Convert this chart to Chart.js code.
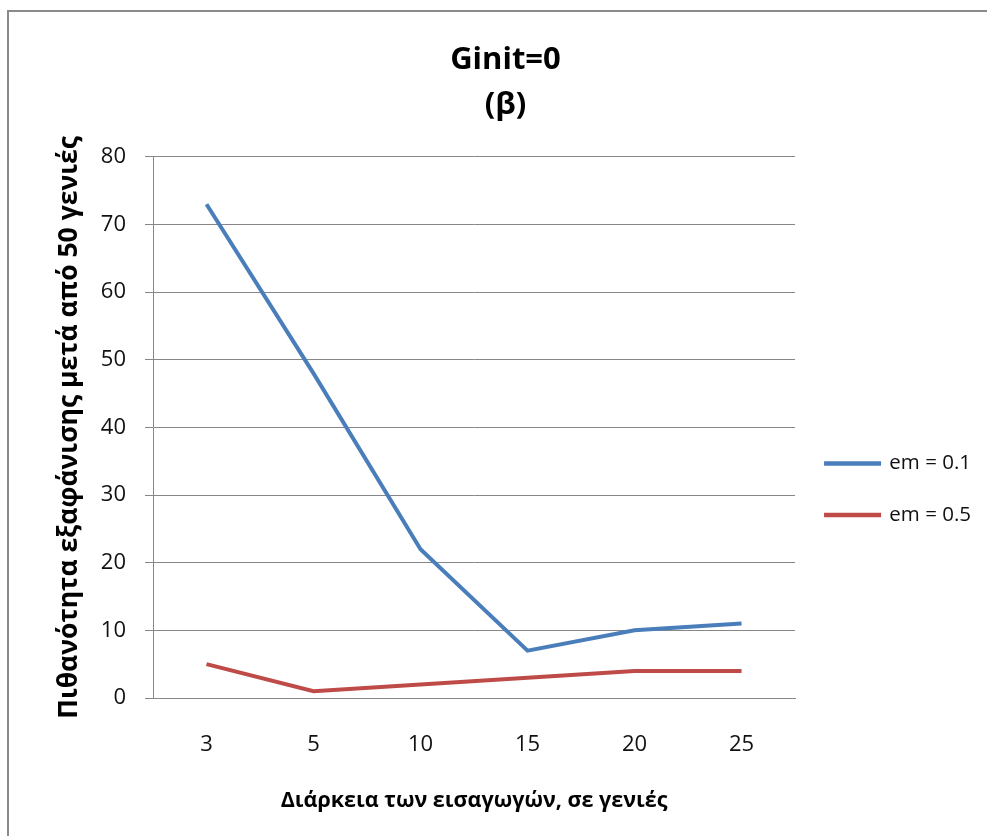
<!DOCTYPE html>
<html>
<head>
<meta charset="utf-8">
<script src="https://cdn.jsdelivr.net/npm/chart.js@4.4.1/dist/chart.umd.min.js"></script>
<style>
  html, body { margin: 0; padding: 0; background: #fff; overflow: hidden; }
  #frame { position: absolute; left: 7px; top: 10px; width: 1100px; height: 900px; border: 2px solid #8a8a8a; }
  #wrap { position: absolute; left: 0; top: 0; width: 987px; height: 836px; }
</style>
</head>
<body>
<div id="frame"></div>
<div id="wrap"><canvas id="chart" width="987" height="836"></canvas></div>
<script>
// categories: duration of introductions, in generations
const durations = ['3', '5', '10', '15', '20', '25'];

// extinction probability after 50 generations
const em01 = [73, 48, 22, 7, 10, 11];
const em05 = [5, 1, 2, 3, 4, 4];

const seriesNames = ['em = 0.1', 'em = 0.5'];
const yTicks = { min: 0, max: 80, step: 10 };

const FONT = "'Open Sans', 'Noto Sans', sans-serif";
const gridGray = '#878787';

const ctx = document.getElementById('chart').getContext('2d');
const chart = new Chart(ctx, {
    type: 'line',
    data: {
        labels: durations,
        datasets: [
            {
                label: seriesNames[0],
                data: em01,
                borderColor: '#4a7ebb',
                backgroundColor: '#4a7ebb',
                borderWidth: 4,
                pointRadius: 0,
                tension: 0,
                fill: false
            },
            {
                label: seriesNames[1],
                data: em05,
                borderColor: '#be4b48',
                backgroundColor: '#be4b48',
                borderWidth: 4,
                pointRadius: 0,
                tension: 0,
                fill: false
            }
        ]
    },
    options: {
        responsive: false,
        animation: false,
        layout: { padding: { left: 30, right: 6, top: 0, bottom: 0 } },
        plugins: {
            title: {
                display: true,
                text: ['Ginit=0', '(β)'],
                color: '#000',
                font: { family: FONT, size: 31, weight: 'bold', lineHeight: 1.45 },
                padding: { top: 38, bottom: 29 }
            },
            legend: {
                position: 'right',
                title: { display: true, text: ' ', font: { size: 12 }, padding: { top: 0, bottom: 128 } },
                labels: {
                    boxWidth: 53,
                    boxHeight: 0.5,
                    padding: 31,
                    color: '#111',
                    font: { family: FONT, size: 20.5 }
                }
            },
            tooltip: { enabled: false }
        },
        scales: {
            x: {
                offset: true,
                afterFit: function(scale) { scale.height = 138; },
                grid: { display: false, drawTicks: false },
                border: { display: true, color: gridGray, width: 1 },
                ticks: { color: '#111', padding: 34, font: { family: FONT, size: 22 } },
                title: {
                    display: true,
                    text: 'Διάρκεια των εισαγωγών, σε γενιές',
                    color: '#000',
                    font: { family: FONT, size: 21.5, weight: 'bold' },
                    padding: { top: 28, bottom: 22 }
                }
            },
            y: {
                min: yTicks.min,
                max: yTicks.max,
                afterFit: function(scale) { scale.width = 123; },
                grid: { color: gridGray, lineWidth: 1, drawTicks: true, tickLength: 8 },
                border: { display: true, color: gridGray, width: 1 },
                ticks: { stepSize: yTicks.step, color: '#111', padding: 19, font: { family: FONT, size: 22 } },
                title: {
                    display: true,
                    text: 'Πιθανότητα εξαφάνισης μετά από 50 γενιές',
                    color: '#000',
                    font: { family: FONT, size: 26.5, weight: 'bold' },
                    padding: { top: 24, bottom: 0 }
                }
            }
        }
    }
});
</script>
</body>
</html>
